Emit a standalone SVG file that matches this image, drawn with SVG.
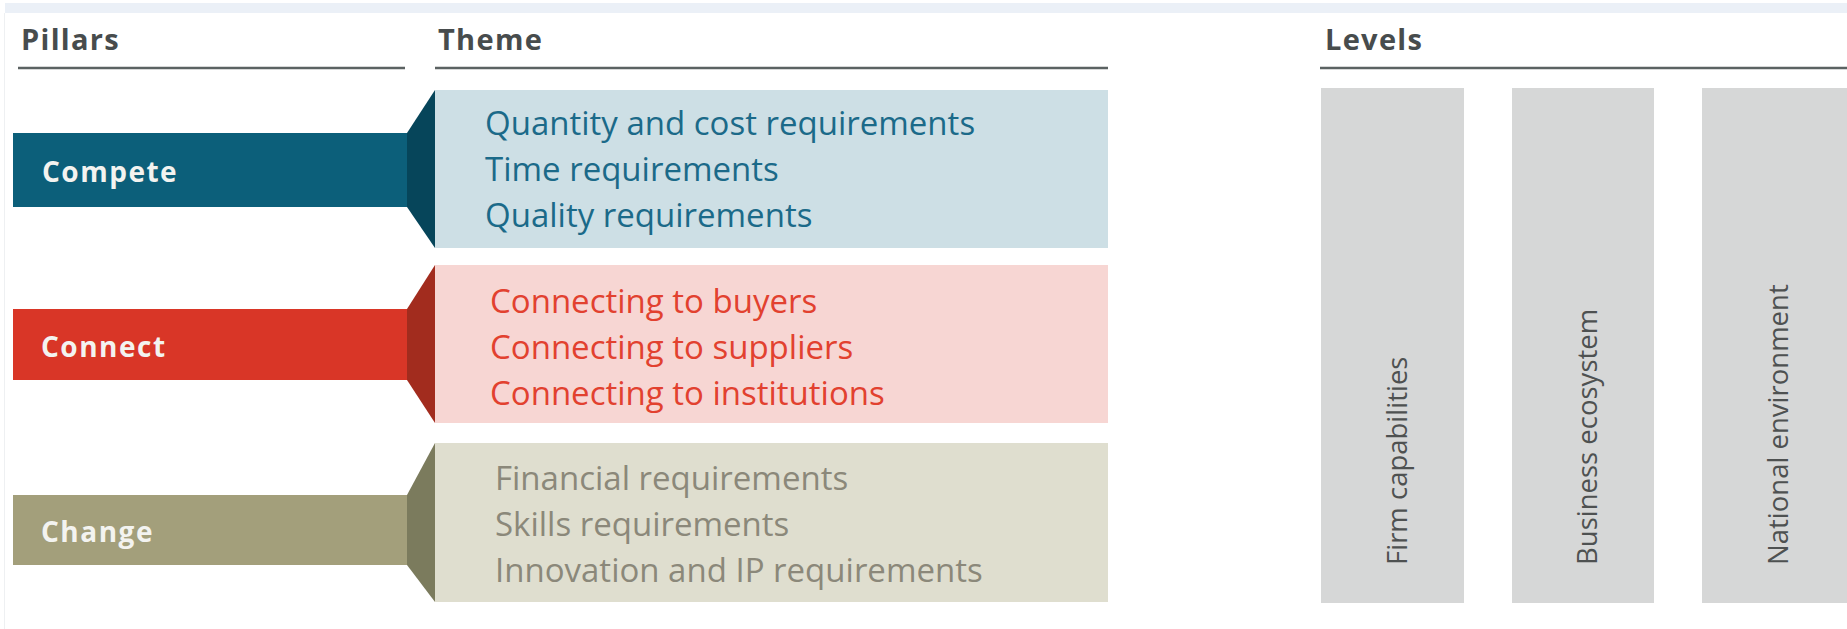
<svg xmlns="http://www.w3.org/2000/svg" width="1847" height="629" viewBox="0 0 1847 629">
  <style>
    .hdr { font-family: "Open Sans", "Liberation Sans", sans-serif; font-weight: 700; font-size: 29px; letter-spacing: 1.3px; fill: #474c4d; }
    .rule { stroke: #5b6262; stroke-width: 2.5; }
    .pill { font-family: "Open Sans", "Liberation Sans", sans-serif; font-weight: 700; font-size: 28px; letter-spacing: 1.5px; fill: #f3f3f0; }
    .item { font-family: "Open Sans", "Liberation Sans", sans-serif; font-size: 33px; }
    .lvl { fill: #d6d7d7; }
    .lvltxt { font-family: "Open Sans", "Liberation Sans", sans-serif; font-size: 27.5px; fill: #4e5151; }
  </style>
  <rect x="0" y="0" width="1847" height="629" fill="#ffffff"/>
  <rect x="5" y="3" width="1842" height="10" fill="#ebf0f7"/>
  <line x1="4.5" y1="13" x2="4.5" y2="629" stroke="#eef0f2" stroke-width="1"/>

  <g id="headers">
    <text class="hdr" x="21" y="50">Pillars</text>
    <line class="rule" x1="18" y1="68" x2="405" y2="68"/>
    <text class="hdr" x="438" y="50">Theme</text>
    <line class="rule" x1="435" y1="68" x2="1108" y2="68"/>
    <text class="hdr" x="1325" y="50">Levels</text>
    <line class="rule" x1="1320" y1="68" x2="1847" y2="68"/>
  </g>

  <g id="connectors">
    <polygon points="407,133 435,90 435,248 407,207" fill="#06455a"/>
    <polygon points="407,309 435,265 435,423 407,380" fill="#a22c1e"/>
    <polygon points="407,495 435,443 435,602 407,565" fill="#7b7b5d"/>
  </g>

  <g id="pillar-compete">
    <rect x="13" y="133" width="394" height="74" fill="#0c5f7a"/>
    <text class="pill" x="42" y="182">Compete</text>
  </g>
  <g id="pillar-connect">
    <rect x="13" y="309" width="394" height="71" fill="#d93627"/>
    <text class="pill" x="41" y="357">Connect</text>
  </g>
  <g id="pillar-change">
    <rect x="13" y="495" width="394" height="70" fill="#a39f7b"/>
    <text class="pill" x="41" y="542">Change</text>
  </g>

  <g id="theme-compete">
    <rect x="435" y="90" width="673" height="158" fill="#cddfe5"/>
    <text class="item" fill="#1b6a89" x="485" y="135">Quantity and cost requirements</text>
    <text class="item" fill="#1b6a89" x="485" y="181">Time requirements</text>
    <text class="item" fill="#1b6a89" x="485" y="227">Quality requirements</text>
  </g>
  <g id="theme-connect">
    <rect x="435" y="265" width="673" height="158" fill="#f7d6d3"/>
    <text class="item" fill="#e2412f" x="490" y="313">Connecting to buyers</text>
    <text class="item" fill="#e2412f" x="490" y="359">Connecting to suppliers</text>
    <text class="item" fill="#e2412f" x="490" y="405">Connecting to institutions</text>
  </g>
  <g id="theme-change">
    <rect x="435" y="443" width="673" height="159" fill="#dfdecf"/>
    <text class="item" fill="#8b887a" x="495" y="490">Financial requirements</text>
    <text class="item" fill="#8b887a" x="495" y="536">Skills requirements</text>
    <text class="item" fill="#8b887a" x="495" y="582">Innovation and IP requirements</text>
  </g>

  <g id="level-firm">
    <rect class="lvl" x="1321" y="88" width="143" height="515"/>
    <text class="lvltxt" transform="translate(1407,565) rotate(-90)">Firm capabilities</text>
  </g>
  <g id="level-business">
    <rect class="lvl" x="1512" y="88" width="142" height="515"/>
    <text class="lvltxt" transform="translate(1597,565) rotate(-90)">Business ecosystem</text>
  </g>
  <g id="level-national">
    <rect class="lvl" x="1702" y="88" width="145" height="515"/>
    <text class="lvltxt" transform="translate(1788,565) rotate(-90)">National environment</text>
  </g>
</svg>
